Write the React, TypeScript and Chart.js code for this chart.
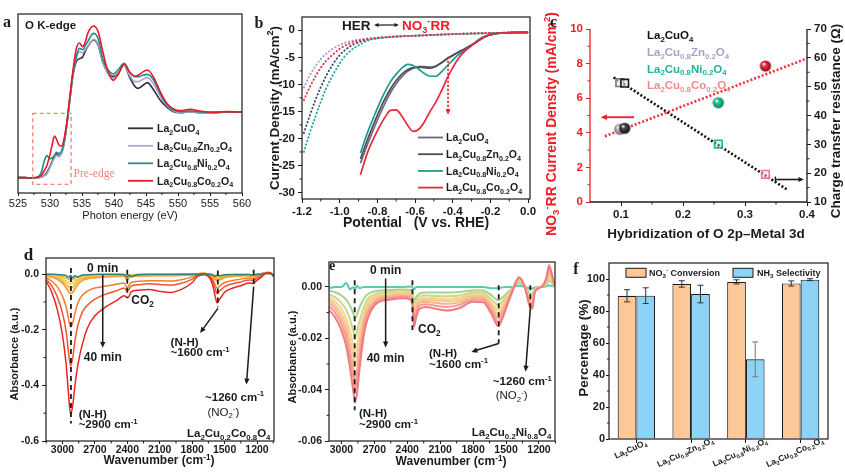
import React, { useEffect, useRef } from 'react';
import { Chart, registerables } from 'chart.js';

Chart.register(...registerables);

const W = 845;
const H = 473;
const FONT = '"Liberation Sans", Arial, Helvetica, sans-serif';
const SERIF = '"Liberation Serif", "Times New Roman", serif';
const INK = '#1b1b1b';
const RED = '#ee1c25';

const NAMES = ['La_2CuO_4', 'La_2Cu_{0.8}Zn_{0.2}O_4', 'La_2Cu_{0.8}Ni_{0.2}O_4', 'La_2Cu_{0.8}Co_{0.2}O_4'];

/* ---------------- panel a : O K-edge XAS ---------------- */
const A_ENERGY = [525, 526, 527, 528, 528.6, 529.2, 529.5, 530.0, 530.4, 530.7, 531.0, 531.4, 531.8, 532.1, 532.6, 533.1, 533.6, 534.1, 534.6, 535.1, 535.5, 535.9, 536.8, 537.5, 538.3, 539.1, 539.9, 540.6, 541.6, 542.4, 543.3, 543.8, 544.6, 545.2, 546.2, 547.2, 548.3, 549.3, 550.4, 551.9, 553.4, 555.5, 557.6, 560];
const A_CUO = [0.46, 0.46, 0.45, 0.46, 0.47, 0.54, 0.60, 0.80, 0.98, 1.09, 1.17, 1.11, 1.21, 1.39, 1.99, 2.79, 3.54, 3.94, 4.03, 4.08, 4.25, 4.39, 4.59, 4.44, 3.89, 3.59, 3.49, 3.59, 3.84, 3.49, 3.19, 3.14, 3.24, 3.31, 3.09, 2.79, 2.57, 2.44, 2.41, 2.44, 2.41, 2.41, 2.43, 2.43];
const A_ZN = [0.46, 0.46, 0.45, 0.46, 0.47, 0.52, 0.57, 0.76, 0.94, 1.04, 1.13, 1.09, 1.19, 1.37, 1.99, 2.81, 3.59, 4.04, 4.24, 4.20, 4.30, 4.41, 4.61, 4.47, 3.91, 3.57, 3.44, 3.57, 3.84, 3.54, 3.34, 3.34, 3.42, 3.46, 3.27, 2.91, 2.61, 2.46, 2.41, 2.44, 2.41, 2.41, 2.43, 2.43];
const A_NI = [0.46, 0.46, 0.45, 0.47, 0.60, 1.02, 1.12, 1.03, 1.06, 1.13, 1.22, 1.18, 1.26, 1.44, 2.04, 2.84, 3.64, 4.09, 4.34, 4.30, 4.42, 4.54, 4.79, 4.64, 3.99, 3.69, 3.57, 3.69, 3.89, 3.64, 3.49, 3.49, 3.54, 3.56, 3.39, 2.99, 2.64, 2.49, 2.44, 2.46, 2.43, 2.42, 2.43, 2.43];
const A_CO = [0.46, 0.46, 0.45, 0.47, 0.52, 0.70, 0.82, 1.15, 1.50, 1.71, 1.62, 1.44, 1.41, 1.54, 2.09, 2.89, 3.69, 4.32, 4.50, 4.39, 4.52, 4.79, 5.01, 4.85, 4.20, 3.62, 3.38, 3.54, 3.87, 3.64, 3.50, 3.54, 3.64, 3.69, 3.47, 3.05, 2.68, 2.52, 2.47, 2.51, 2.46, 2.42, 2.44, 2.43];
const A_COLORS = ['#2e2e3e', '#aba5c7', '#1f8f80', '#e8192c'];
const A_TICKS = [525, 530, 535, 540, 545, 550, 555, 560];
const A_MINOR = [527.5, 532.5, 537.5, 542.5, 547.5, 552.5, 557.5];
const A_PRE_X = [527.3, 533.3];
const A_PRE_Y = [0.26, 2.39];

/* ---------------- panel b : LSV ---------------- */
const B_V = [-0.89, -0.85, -0.82, -0.79, -0.76, -0.73, -0.70, -0.67, -0.64, -0.61, -0.58, -0.55, -0.52, -0.49, -0.46, -0.43, -0.40, -0.37, -0.34, -0.31, -0.28, -0.25, -0.22, -0.19, -0.16, -0.12, -0.08, -0.04, 0];
const B_CUO = [-24.6, -20.9, -18.3, -15.8, -13.5, -11.5, -9.9, -8.6, -7.6, -7.0, -6.7, -6.7, -6.8, -6.6, -6.0, -5.3, -4.7, -4.1, -3.6, -2.9, -2.3, -1.6, -1.05, -0.75, -0.58, -0.47, -0.41, -0.38, -0.37];
const B_ZN = [-23.8, -20.0, -17.4, -14.9, -12.7, -10.8, -9.3, -8.1, -7.3, -6.9, -6.8, -6.9, -7.0, -6.7, -6.0, -5.2, -4.6, -4.0, -3.5, -2.9, -2.3, -1.6, -1.05, -0.75, -0.58, -0.47, -0.41, -0.38, -0.37];
const B_NI = [-22.7, -18.7, -16.1, -13.6, -11.4, -9.5, -8.1, -7.0, -6.3, -6.5, -7.2, -8.0, -8.5, -8.5, -7.7, -6.6, -5.5, -4.5, -3.8, -3.1, -2.2, -1.4, -0.95, -0.7, -0.55, -0.45, -0.4, -0.38, -0.37];
const B_CO = [-26.7, -22.4, -20.0, -17.9, -16.1, -14.8, -14.7, -15.9, -17.5, -18.7, -18.3, -16.9, -15.0, -13.3, -11.2, -8.9, -6.9, -5.2, -4.0, -3.1, -2.3, -1.6, -1.0, -0.7, -0.55, -0.45, -0.4, -0.38, -0.37];
const B_V_HER = [-1.19, -1.16, -1.13, -1.10, -1.07, -1.04, -1.01, -0.98, -0.95, -0.92, -0.89, -0.85, -0.80, -0.75, -0.70, -0.60, -0.50, -0.40, -0.30, -0.20, -0.10, 0];
const B_HER_CUO = [-19.0, -15.9, -13.0, -10.5, -8.3, -6.5, -5.0, -3.9, -3.1, -2.5, -2.1, -1.75, -1.45, -1.3, -1.15, -1.0, -0.85, -0.7, -0.6, -0.5, -0.45, -0.4];
const B_HER_ZN = [-10.6, -8.4, -6.7, -5.3, -4.3, -3.5, -2.9, -2.4, -2.1, -1.85, -1.7, -1.5, -1.35, -1.25, -1.15, -1.0, -0.85, -0.7, -0.6, -0.5, -0.45, -0.4];
const B_HER_NI = [-22.5, -19.1, -16.1, -13.2, -10.6, -8.5, -6.7, -5.1, -4.0, -3.2, -2.6, -1.9, -1.5, -1.3, -1.15, -1.0, -0.85, -0.7, -0.6, -0.5, -0.45, -0.4];
const B_HER_CO = [-12.9, -10.6, -8.6, -6.9, -5.6, -4.6, -3.7, -3.0, -2.5, -2.1, -1.85, -1.6, -1.4, -1.25, -1.15, -1.0, -0.85, -0.7, -0.6, -0.5, -0.45, -0.4];
const B_SOLID_COLORS = ['#6b6b7b', '#4b4b5e', '#1f9c8a', '#e8283c'];
const B_DOT_COLORS = ['#3d4a6e', '#a89cc8', '#2aa595', '#ee3348'];
const B_XTICKS = [-1.2, -1.0, -0.8, -0.6, -0.4, -0.2, 0.0];
const B_XMINOR = [-1.1, -0.9, -0.7, -0.5, -0.3, -0.1];
const B_YTICKS = [0, -5, -10, -15, -20, -25, -30];
const B_YMINOR = [-2.5, -7.5, -12.5, -17.5, -22.5, -27.5];
const B_ARROW_V = -0.425;
const B_ARROW_J = [-4.9, -15.6];

/* ---------------- panel c : hybridization ---------------- */
const C_HYB = [0.106, 0.098, 0.257, 0.333];
const C_J = [4.26, 4.2, 5.74, 7.86];
const C_RCT = [51.2, 51.4, 30.1, 19.6];
const C_FIT_J_X = [0.074, 0.4];
const C_FIT_J_Y = [3.8, 8.3];
const C_FIT_R_X = [0.088, 0.368];
const C_FIT_R_Y = [53.2, 14.3];
const C_SPHERE = [['#4a4a4a', '#101010'], ['#b8b8c4', '#6e6e7c'], ['#2ccaa2', '#0b7a5e'], ['#f03046', '#8a0d1a']];
const C_SQUARE = ['#1e1e1e', '#7a7a7a', '#1fb3a0', '#f07a8a'];
const C_SQUARE_FILL = ['rgba(230,230,235,0.55)', 'rgba(230,230,235,0.55)', 'rgba(160,230,220,0.35)', 'rgba(250,210,215,0.45)'];
const C_TEXT = ['#111111', '#a7a3c9', '#21b39b', '#f28a8a'];
const C_XTICKS = [0.1, 0.2, 0.3, 0.4];
const C_YTICKS = [0, 2, 4, 6, 8, 10];
const C_Y1TICKS = [10, 20, 30, 40, 50, 60, 70];

/* ---------------- panel d : IR La2Cu0.2Co0.8O4 ---------------- */
const D_WN = [3150, 3100, 3050, 3000, 2965, 2945, 2925, 2905, 2885, 2855, 2815, 2765, 2700, 2600, 2500, 2430, 2400, 2385, 2365, 2300, 2200, 2100, 2000, 1900, 1800, 1750, 1700, 1650, 1610, 1590, 1570, 1545, 1500, 1450, 1400, 1350, 1300, 1260, 1235, 1210, 1170, 1140, 1110, 1080, 1060, 1045];
const D_0 = [0.0, 0.0, -0.001, -0.003, -0.006, -0.012, -0.005, -0.013, -0.006, -0.01, -0.003, -0.002, -0.001, 0.0, 0.0, -0.001, -0.01, -0.003, -0.009, -0.001, 0.0, 0.0, 0.0, 0.0, 0.0, 0.0, 0.001, 0.0, -0.003, -0.008, -0.004, -0.006, -0.002, -0.001, -0.001, -0.001, -0.001, -0.002, -0.003, -0.001, 0.0, 0.002, 0.002, 0.001, 0.0, -0.002];
const D_1 = [-0.002, -0.003, -0.005, -0.009, -0.014, -0.018, -0.02, -0.019, -0.015, -0.01, -0.006, -0.004, -0.003, -0.003, -0.002, -0.002, -0.01, -0.005, -0.003, -0.002, -0.002, -0.002, -0.002, -0.001, 0.0, 0.001, 0.002, 0.0, -0.003, -0.005, -0.007, -0.006, -0.004, -0.003, -0.002, -0.002, -0.002, -0.003, -0.004, -0.002, 0.0, 0.002, 0.003, 0.002, 0.0, -0.003];
const D_2 = [-0.003, -0.005, -0.009, -0.016, -0.025, -0.031, -0.035, -0.032, -0.025, -0.016, -0.01, -0.008, -0.006, -0.005, -0.004, -0.004, -0.012, -0.007, -0.004, -0.003, -0.003, -0.003, -0.003, -0.002, 0.0, 0.001, 0.002, 0.0, -0.004, -0.008, -0.012, -0.01, -0.006, -0.004, -0.003, -0.003, -0.003, -0.004, -0.005, -0.002, 0.0, 0.003, 0.004, 0.003, 0.0, -0.004];
const D_3 = [-0.004, -0.008, -0.013, -0.024, -0.037, -0.045, -0.05, -0.047, -0.037, -0.024, -0.015, -0.011, -0.009, -0.007, -0.006, -0.005, -0.016, -0.009, -0.006, -0.005, -0.004, -0.004, -0.004, -0.003, -0.001, 0.001, 0.002, 0.0, -0.006, -0.012, -0.017, -0.014, -0.008, -0.006, -0.005, -0.004, -0.004, -0.005, -0.006, -0.003, 0.0, 0.003, 0.005, 0.004, 0.0, -0.005];
const D_4 = [-0.005, -0.01, -0.018, -0.032, -0.05, -0.062, -0.07, -0.066, -0.052, -0.035, -0.022, -0.016, -0.013, -0.01, -0.008, -0.007, -0.022, -0.012, -0.008, -0.006, -0.006, -0.005, -0.005, -0.004, -0.002, 0.0, 0.002, 0.0, -0.008, -0.017, -0.025, -0.02, -0.012, -0.009, -0.007, -0.006, -0.005, -0.006, -0.008, -0.004, -0.001, 0.003, 0.006, 0.005, 0.0, -0.006];
const D_5 = [-0.012, -0.025, -0.045, -0.08, -0.12, -0.16, -0.19, -0.175, -0.14, -0.10, -0.075, -0.06, -0.05, -0.043, -0.036, -0.032, -0.05, -0.04, -0.03, -0.026, -0.024, -0.024, -0.025, -0.02, -0.01, -0.002, 0.001, -0.003, -0.018, -0.035, -0.05, -0.042, -0.03, -0.025, -0.021, -0.018, -0.014, -0.014, -0.017, -0.011, -0.005, 0.0, 0.005, 0.005, 0.0, -0.007];
const D_6 = [-0.018, -0.042, -0.08, -0.14, -0.21, -0.28, -0.33, -0.30, -0.24, -0.18, -0.135, -0.11, -0.09, -0.072, -0.06, -0.05, -0.06, -0.055, -0.043, -0.038, -0.035, -0.037, -0.04, -0.033, -0.018, -0.004, 0.0, -0.005, -0.025, -0.05, -0.07, -0.06, -0.045, -0.037, -0.032, -0.028, -0.022, -0.021, -0.024, -0.017, -0.009, -0.002, 0.005, 0.005, 0.0, -0.008];
const D_7 = [-0.026, -0.065, -0.125, -0.22, -0.33, -0.43, -0.505, -0.47, -0.40, -0.32, -0.25, -0.19, -0.15, -0.118, -0.095, -0.078, -0.085, -0.08, -0.064, -0.058, -0.055, -0.062, -0.066, -0.055, -0.03, -0.008, -0.002, -0.008, -0.04, -0.075, -0.103, -0.09, -0.065, -0.054, -0.047, -0.042, -0.034, -0.032, -0.034, -0.025, -0.014, -0.004, 0.004, 0.004, -0.002, -0.01];
const D_COLORS = ['#2f7f7c', '#c6c25c', '#f3d24e', '#f7bb45', '#f6a032', '#f47c2e', '#f0552e', '#ee2424'];
const D_XTICKS = [3000, 2700, 2400, 2100, 1800, 1500, 1200];
const D_XMINOR = [3150, 2850, 2550, 2250, 1950, 1650, 1350, 1050];
const D_YTICKS = [0, -0.2, -0.4, -0.6];
const D_YMINOR = [-0.1, -0.3, -0.5];

/* ---------------- panel e : IR La2Cu0.2Ni0.8O4 ---------------- */
const E_WN = [3110, 3060, 3000, 2955, 2920, 2890, 2876, 2860, 2835, 2800, 2765, 2680, 2560, 2440, 2370, 2350, 2338, 2320, 2287, 2225, 2140, 2045, 1925, 1800, 1710, 1635, 1600, 1574, 1545, 1505, 1440, 1382, 1330, 1285, 1262, 1240, 1200, 1164, 1130, 1109, 1080, 1056];
const E_0 = [-0.0005, 0.0, 0.0, 0.0015, -0.001, 0.0, -0.001, 0.0005, -0.0005, 0.0, 0.0, 0.0, 0.0, 0.0, 0.0002, -0.0002, -0.001, 0.0, 0.0, 0.0, 0.0, 0.0, 0.0, 0.0, 0.0, -0.0005, -0.0005, -0.0005, -0.0003, 0.0, 0.0, 0.0005, 0.0, -0.0005, -0.0006, -0.0003, 0.0, 0.0, 0.0003, 0.0006, 0.0003, 0.0];
const E_1 = [-0.0015, -0.002, -0.0033, -0.005, -0.0075, -0.0105, -0.012, -0.011, -0.008, -0.005, -0.003, -0.0016, -0.0012, -0.001, -0.0012, -0.0025, -0.0055, -0.004, -0.0025, -0.0022, -0.0022, -0.0022, -0.002, -0.0014, -0.0014, -0.0032, -0.0045, -0.0052, -0.0045, -0.003, -0.0004, 0.0015, 0.0002, -0.0025, -0.003, -0.0008, -0.0001, 0.0002, 0.001, 0.0025, 0.0014, 0.0002];
const E_2 = [-0.003, -0.004, -0.0062, -0.009, -0.013, -0.0175, -0.02, -0.018, -0.0135, -0.0085, -0.005, -0.0027, -0.002, -0.0017, -0.002, -0.0035, -0.007, -0.0052, -0.0035, -0.0033, -0.0035, -0.0036, -0.0033, -0.0023, -0.0023, -0.0048, -0.0062, -0.0072, -0.0062, -0.004, -0.0005, 0.0022, 0.0003, -0.0036, -0.0042, -0.0012, -0.0002, 0.0003, 0.0015, 0.0035, 0.002, 0.0003];
const E_3 = [-0.004, -0.0055, -0.0085, -0.0125, -0.0175, -0.023, -0.026, -0.0235, -0.0175, -0.011, -0.0065, -0.0035, -0.0025, -0.0022, -0.0025, -0.0042, -0.0085, -0.0065, -0.0045, -0.0042, -0.0044, -0.0046, -0.0042, -0.003, -0.003, -0.006, -0.0078, -0.009, -0.0078, -0.005, -0.0006, 0.0027, 0.0003, -0.0045, -0.0052, -0.0015, -0.0002, 0.0004, 0.002, 0.0045, 0.0025, 0.0004];
const E_4 = [-0.005, -0.0068, -0.0105, -0.015, -0.021, -0.0275, -0.031, -0.028, -0.021, -0.013, -0.008, -0.0042, -0.0031, -0.0027, -0.003, -0.005, -0.01, -0.0078, -0.0053, -0.005, -0.0052, -0.0055, -0.005, -0.0035, -0.0035, -0.007, -0.009, -0.0105, -0.009, -0.006, -0.0008, 0.003, 0.0003, -0.0052, -0.006, -0.0018, -0.0003, 0.0004, 0.0025, 0.0055, 0.003, 0.0004];
const E_5 = [-0.0062, -0.0082, -0.0125, -0.0175, -0.025, -0.032, -0.036, -0.033, -0.025, -0.015, -0.0095, -0.005, -0.0037, -0.0032, -0.0036, -0.006, -0.0115, -0.009, -0.0062, -0.0058, -0.0062, -0.0066, -0.006, -0.0042, -0.0042, -0.008, -0.0105, -0.0122, -0.0105, -0.007, -0.001, 0.0034, 0.0003, -0.006, -0.0068, -0.002, -0.0003, 0.0005, 0.003, 0.0065, 0.0035, 0.0005];
const E_6 = [-0.0075, -0.0098, -0.0145, -0.02, -0.028, -0.036, -0.04, -0.037, -0.028, -0.017, -0.011, -0.0057, -0.0043, -0.0038, -0.0043, -0.007, -0.013, -0.0105, -0.0073, -0.0068, -0.0073, -0.0078, -0.007, -0.005, -0.005, -0.0092, -0.012, -0.0138, -0.012, -0.008, -0.0012, 0.0036, 0.0002, -0.0068, -0.0078, -0.0022, -0.0004, 0.0005, 0.0035, 0.0075, 0.004, 0.0005];
const E_7 = [-0.0091, -0.0117, -0.0168, -0.0233, -0.032, -0.041, -0.045, -0.042, -0.032, -0.02, -0.013, -0.0065, -0.005, -0.0044, -0.005, -0.008, -0.0155, -0.012, -0.0085, -0.0078, -0.0085, -0.0092, -0.0082, -0.0058, -0.006, -0.0104, -0.0135, -0.0153, -0.0135, -0.009, -0.0015, 0.0038, 0.0, -0.0075, -0.0085, -0.0025, -0.0005, 0.0005, 0.004, 0.0085, 0.0045, 0.0005];
const E_COLORS = ['#62c6b2', '#a9d28c', '#cdd68a', '#f2d88c', '#f6c78a', '#f6b28c', '#f49a8e', '#f27a80'];
const E_XTICKS = [3000, 2700, 2400, 2100, 1800, 1500, 1200];
const E_XMINOR = [2850, 2550, 2250, 1950, 1650, 1350, 1050];
const E_YTICKS = [0, -0.02, -0.04, -0.06];
const E_YMINOR = [-0.01, -0.03, -0.05];

/* ---------------- panel f : conversion / selectivity ---------------- */
const F_CONV = [89.5, 96.9, 98.2, 97.2];
const F_CONV_ERR = [3.8, 2.0, 1.3, 1.6];
const F_SEL = [89.6, 90.6, 49.8, 99.6];
const F_SEL_ERR = [4.9, 5.5, 10.9, 0.6];
const F_YTICKS = [0, 20, 40, 60, 80, 100];
const F_YMINOR = [10, 30, 50, 70, 90];
const F_ORANGE = '#fcc897';
const F_BLUE = '#8dd3f5';

/* ---------------- helpers ---------------- */
function parseRich(s: string) {
  const out: { t: string; m: number }[] = [];
  let buf = '';
  for (let i = 0; i < s.length; i++) {
    const c = s[i];
    if ((c === '_' || c === '^') && i + 1 < s.length) {
      if (buf) { out.push({ t: buf, m: 0 }); buf = ''; }
      let t = '';
      if (s[i + 1] === '{') { const j = s.indexOf('}', i + 2); t = s.slice(i + 2, j); i = j; }
      else { t = s[i + 1]; i++; }
      out.push({ t, m: c === '_' ? 1 : 2 });
    } else buf += c;
  }
  if (buf) out.push({ t: buf, m: 0 });
  return out;
}

function drawRich(ctx: any, s: string, x: number, y: number, o: any = {}) {
  const size = o.size ?? 11;
  const weight = o.weight ?? 'bold';
  const fam = o.family ?? FONT;
  const segs = parseRich(s);
  const fnt = (m: number) => `${weight} ${m ? size * 0.68 : size}px ${fam}`;
  const widths = segs.map((sg) => { ctx.font = fnt(sg.m); return ctx.measureText(sg.t).width; });
  const total = widths.reduce((a: number, b: number) => a + b, 0);
  ctx.save();
  ctx.translate(x, y);
  if (o.rot) ctx.rotate(o.rot);
  ctx.fillStyle = o.color ?? INK;
  ctx.textAlign = 'left';
  ctx.textBaseline = 'alphabetic';
  let cx = o.align === 'center' ? -total / 2 : o.align === 'right' ? -total : 0;
  const base = size * 0.36;
  segs.forEach((sg, i) => {
    ctx.font = fnt(sg.m);
    const dy = sg.m === 1 ? size * 0.24 : sg.m === 2 ? -size * 0.4 : 0;
    ctx.fillText(sg.t, cx, base + dy);
    cx += widths[i];
  });
  ctx.restore();
}

function seg(ctx: any, x1: number, y1: number, x2: number, y2: number, color: string, lw = 1.2, dash: number[] = []) {
  ctx.save();
  ctx.strokeStyle = color;
  ctx.lineWidth = lw;
  ctx.setLineDash(dash);
  ctx.beginPath();
  ctx.moveTo(x1, y1);
  ctx.lineTo(x2, y2);
  ctx.stroke();
  ctx.restore();
}

function head(ctx: any, x1: number, y1: number, x2: number, y2: number, color: string, size: number) {
  const a = Math.atan2(y2 - y1, x2 - x1);
  ctx.save();
  ctx.fillStyle = color;
  ctx.beginPath();
  ctx.moveTo(x2, y2);
  ctx.lineTo(x2 - Math.cos(a - 0.42) * size, y2 - Math.sin(a - 0.42) * size);
  ctx.lineTo(x2 - Math.cos(a + 0.42) * size, y2 - Math.sin(a + 0.42) * size);
  ctx.closePath();
  ctx.fill();
  ctx.restore();
}

function arrow(ctx: any, x1: number, y1: number, x2: number, y2: number, color: string, lw = 1.5, hs = 6, dash: number[] = []) {
  const a = Math.atan2(y2 - y1, x2 - x1);
  seg(ctx, x1, y1, x2 - Math.cos(a) * hs * 0.7, y2 - Math.sin(a) * hs * 0.7, color, lw, dash);
  head(ctx, x1, y1, x2, y2, color, hs);
}

function minor(ctx: any, sc: any, vals: number[], side: string, len = 2.5, color = INK) {
  ctx.save();
  ctx.strokeStyle = color;
  ctx.lineWidth = 1;
  ctx.beginPath();
  vals.forEach((v) => {
    const p = sc.getPixelForValue(v);
    if (side === 'bottom') { ctx.moveTo(p, sc.top); ctx.lineTo(p, sc.top + len); }
    else if (side === 'left') { ctx.moveTo(sc.right - len, p); ctx.lineTo(sc.right, p); }
    else { ctx.moveTo(sc.left, p); ctx.lineTo(sc.left + len, p); }
  });
  ctx.stroke();
  ctx.restore();
}

function frame(ctx: any, ca: any, color = INK, lw = 1.2) {
  ctx.save();
  ctx.strokeStyle = color;
  ctx.lineWidth = lw;
  ctx.strokeRect(ca.left, ca.top, ca.right - ca.left, ca.bottom - ca.top);
  ctx.restore();
}

function pts(xs: number[], ys: number[]) {
  return xs.map((x, i) => ({ x, y: ys[i] }));
}

function lineDS(xs: number[], ys: number[], color: string, width: number, dash: number[] = []) {
  return {
    data: pts(xs, ys),
    borderColor: color,
    backgroundColor: color,
    borderWidth: width,
    borderDash: dash,
    borderCapStyle: dash.length ? 'round' : 'butt',
    pointRadius: 0,
    fill: false,
    cubicInterpolationMode: 'monotone',
  };
}

function lin(o: any) {
  return {
    type: 'linear',
    position: o.position,
    min: o.min,
    max: o.max,
    reverse: !!o.reverse,
    afterBuildTicks: (s: any) => { s.ticks = o.ticks.map((v: number) => ({ value: v })); },
    afterFit: (s: any) => { if (s.isHorizontal()) s.height = o.fit; else s.width = o.fit; },
    ticks: {
      display: o.show !== false,
      autoSkip: false,
      maxRotation: 0,
      minRotation: 0,
      padding: o.pad ?? 3,
      color: o.color ?? INK,
      font: { family: FONT, size: o.size ?? 11, weight: o.weight ?? 'bold' },
      callback: (v: any) => (o.fmt ? o.fmt(Number(v)) : String(v)),
    },
    grid: { display: true, drawOnChartArea: false, drawTicks: o.tickLen !== 0, tickLength: o.tickLen ?? 4, color: o.gridColor ?? INK, lineWidth: 1 },
    border: { display: false },
    title: { display: false },
  };
}

function pad(l: number, t: number, r: number, b: number, yw: number, xh: number, rw = 0) {
  return { left: l - yw, top: t, right: W - r - rw, bottom: H - b - xh };
}

function opts(padding: any, scales: any) {
  return {
    responsive: false,
    animation: false,
    events: [],
    layout: { padding },
    plugins: { legend: { display: false }, tooltip: { enabled: false } },
    scales,
  };
}

function overlay(id: string, draw: (ctx: any, ch: any) => void) {
  return { id, afterDraw(ch: any) { const ctx = ch.ctx; ctx.save(); draw(ctx, ch); ctx.restore(); } };
}

function sphereImg(light: string, dark: string, r: number) {
  const c = document.createElement('canvas');
  const s = Math.ceil(r * 2 + 2);
  c.width = s;
  c.height = s;
  const g = c.getContext('2d')!;
  const cx = s / 2;
  const grad = g.createRadialGradient(cx - r * 0.35, cx - r * 0.4, r * 0.08, cx, cx, r);
  grad.addColorStop(0, '#ffffff');
  grad.addColorStop(0.3, light);
  grad.addColorStop(1, dark);
  g.fillStyle = grad;
  g.beginPath();
  g.arc(cx, cx, r, 0, Math.PI * 2);
  g.fill();
  return c;
}

/* ---------------- builders ---------------- */
function buildA(cv: HTMLCanvasElement) {
  const series = [A_CUO, A_ZN, A_NI, A_CO];
  const datasets = series.map((ys, i) => lineDS(A_ENERGY, ys, A_COLORS[i], 1.6)).reverse();
  const ov = overlay('ovA', (ctx, ch) => {
    const ca = ch.chartArea, x = ch.scales.x, y = ch.scales.y;
    frame(ctx, ca);
    minor(ctx, x, A_MINOR, 'bottom', 2);
    drawRich(ctx, 'O K-edge', ca.left + 7, ca.top + 11, { size: 11.5 });
    NAMES.forEach((n, i) => {
      const yy = 128.3 + i * 17.5;
      seg(ctx, 128, yy, 153, yy, A_COLORS[i], 1.8);
      drawRich(ctx, n, 157, yy, { size: 10.5 });
    });
    const x1 = x.getPixelForValue(A_PRE_X[0]), x2 = x.getPixelForValue(A_PRE_X[1]);
    const y1 = y.getPixelForValue(A_PRE_Y[1]), y2 = y.getPixelForValue(A_PRE_Y[0]);
    ctx.save();
    ctx.setLineDash([4, 3]);
    ctx.strokeStyle = '#f4847c';
    ctx.lineWidth = 1.3;
    ctx.strokeRect(x1, y1, x2 - x1, y2 - y1);
    ctx.restore();
    drawRich(ctx, 'Pre-edge', x2 + 2.5, y.getPixelForValue(0.6), { family: SERIF, size: 11.5, weight: 'normal', color: '#f4847c' });
    drawRich(ctx, 'Photon energy (eV)', (ca.left + ca.right) / 2, 215, { size: 11, weight: 'normal', align: 'center' });
    drawRich(ctx, 'a', 7, 21, { family: SERIF, size: 16, align: 'center' });
  });
  return new Chart(cv, {
    type: 'line',
    data: { datasets } as any,
    options: opts(pad(18, 14, 242, 193, 6, 20), {
      x: lin({ min: 525, max: 560, ticks: A_TICKS, fit: 20, size: 11, weight: 'normal', tickLen: 3, pad: 1 }),
      y: lin({ min: 0, max: 5.37, ticks: [0], fit: 6, show: false, tickLen: 0 }),
    }) as any,
    plugins: [ov],
  });
}

function buildB(cv: HTMLCanvasElement) {
  const solid = [B_CUO, B_ZN, B_NI, B_CO].map((ys, i) => lineDS(B_V, ys, B_SOLID_COLORS[i], 1.7)).reverse();
  const dotted = [B_HER_CUO, B_HER_ZN, B_HER_NI, B_HER_CO].map((ys, i) => lineDS(B_V_HER, ys, B_DOT_COLORS[i], 1.9, [0.5, 3.2])).reverse();
  const ov = overlay('ovB', (ctx, ch) => {
    const ca = ch.chartArea, x = ch.scales.x, y = ch.scales.y;
    frame(ctx, ca);
    minor(ctx, x, B_XMINOR, 'bottom');
    minor(ctx, y, B_YMINOR, 'left');
    NAMES.forEach((n, i) => {
      const yy = 137.5 + i * 16.7;
      seg(ctx, 418, yy, 443, yy, B_SOLID_COLORS[i], 1.8);
      drawRich(ctx, n, 446, yy, { size: 10.5 });
    });
    drawRich(ctx, 'HER', 342, 25, { size: 13.5 });
    seg(ctx, 377, 25, 396, 25, INK, 1.2);
    head(ctx, 380, 25, 374, 25, INK, 5);
    head(ctx, 393, 25, 399, 25, INK, 5);
    drawRich(ctx, 'NO_3^-RR', 402, 25, { size: 13.5, color: RED });
    const ax = x.getPixelForValue(B_ARROW_V);
    arrow(ctx, ax, y.getPixelForValue(B_ARROW_J[0]), ax, y.getPixelForValue(B_ARROW_J[1]), RED, 1.8, 6, [2, 2]);
    drawRich(ctx, 'Current Density (mA/cm^2)', 274, 108, { size: 13.5, align: 'center', rot: -Math.PI / 2 });
    drawRich(ctx, 'Potential   (V vs. RHE)', 416, 222, { size: 14, align: 'center' });
    drawRich(ctx, 'b', 259, 22, { family: SERIF, size: 16, align: 'center' });
  });
  return new Chart(cv, {
    type: 'line',
    data: { datasets: [...solid, ...dotted] } as any,
    options: opts(pad(302, 17, 530, 199, 32, 20), {
      x: lin({ min: -1.2, max: 0.01, ticks: B_XTICKS, fit: 20, size: 11.5, fmt: (v: number) => v.toFixed(1), pad: 2 }),
      y: lin({ min: -31.2, max: 2.46, ticks: B_YTICKS, fit: 32, size: 11.5 }),
    }) as any,
    plugins: [ov],
  });
}

function buildC(cv: HTMLCanvasElement) {
  const spheres = C_SPHERE.map(([l, d]) => sphereImg(l, d, 5.6));
  const datasets: any[] = [
    ...C_HYB.map((xv, i) => ({ data: [{ x: xv, y: C_J[i] }], yAxisID: 'y', pointStyle: spheres[i], pointRadius: 6, showLine: false })),
    ...C_HYB.map((xv, i) => ({ data: [{ x: xv, y: C_RCT[i] }], yAxisID: 'y1', pointStyle: 'rect', pointRadius: 5.4, borderColor: C_SQUARE[i], backgroundColor: C_SQUARE_FILL[i], borderWidth: 1.6, showLine: false })),
    { data: pts(C_FIT_J_X, C_FIT_J_Y), yAxisID: 'y', showLine: true, borderColor: '#f0303a', borderWidth: 2.6, borderDash: [2, 2], pointRadius: 0 },
    { data: pts(C_FIT_R_X, C_FIT_R_Y), yAxisID: 'y1', showLine: true, borderColor: '#111111', borderWidth: 2.6, borderDash: [2, 2], pointRadius: 0 },
  ];
  const ov = overlay('ovC', (ctx, ch) => {
    const ca = ch.chartArea, x = ch.scales.x, yl = ch.scales.y, yr = ch.scales.y1;
    seg(ctx, ca.left, ca.top, ca.left, ca.bottom, RED, 1.3);
    seg(ctx, ca.left, ca.bottom, ca.right, ca.bottom, INK, 1.3);
    seg(ctx, ca.right, ca.top, ca.right, ca.bottom, INK, 1.3);
    minor(ctx, x, [0.15, 0.25, 0.35], 'bottom');
    minor(ctx, yl, [1, 3, 5, 7, 9], 'left', 2.5, RED);
    minor(ctx, yr, [15, 25, 35, 45, 55, 65], 'right');
    NAMES.forEach((n, i) => drawRich(ctx, n, 647, 35 + i * 16.7, { size: 11.5, color: C_TEXT[i] }));
    const ry = yl.getPixelForValue(4.9);
    arrow(ctx, x.getPixelForValue(0.121), ry, x.getPixelForValue(0.067), ry, RED, 1.8, 7);
    const by = yr.getPixelForValue(17.8);
    const bx = x.getPixelForValue(0.349);
    arrow(ctx, bx, by, x.getPixelForValue(0.395), by, INK, 1.6, 6);
    seg(ctx, bx, by - 3, bx, by + 3, INK, 1.4);
    drawRich(ctx, 'NO_3^-RR Current Density (mA/cm^2)', 551, 124, { size: 14, align: 'center', rot: -Math.PI / 2, color: RED });
    drawRich(ctx, 'Charge transfer resistance (Ω)', 835, 121, { size: 13.5, align: 'center', rot: -Math.PI / 2 });
    drawRich(ctx, 'Hybridization of O 2p–Metal 3d', 706, 233, { size: 13.5, align: 'center' });
    drawRich(ctx, 'c', 553.5, 21.5, { family: SERIF, size: 16, align: 'center' });
  });
  return new Chart(cv, {
    type: 'scatter',
    data: { datasets },
    options: opts(pad(590, 29, 807, 202, 32, 20, 32), {
      x: lin({ min: 0.05, max: 0.4, ticks: C_XTICKS, fit: 20, size: 11.5, fmt: (v: number) => v.toFixed(1), pad: 2 }),
      y: lin({ min: 0, max: 10, ticks: C_YTICKS, fit: 32, size: 11.5, color: RED, gridColor: RED }),
      y1: lin({ min: 10, max: 70, ticks: C_Y1TICKS, fit: 32, size: 11.5, position: 'right' }),
    }) as any,
    plugins: [ov],
  });
}

function irAnnot(ctx: any, x: any, y: any, a: any) {
  a.dash.forEach((d: number[]) => {
    const px = x.getPixelForValue(d[0]);
    seg(ctx, px, y.getPixelForValue(d[1]), px, y.getPixelForValue(d[2]), INK, 1.8, [5, 4]);
  });
  const P = (p: number[]) => [x.getPixelForValue(p[0]), y.getPixelForValue(p[1])];
  a.arrows.forEach((r: number[][]) => {
    const [x1, y1] = P(r[0]);
    const [x2, y2] = P(r[1]);
    arrow(ctx, x1, y1, x2, y2, INK, 1.5, 6.5);
  });
  a.texts.forEach((t: any) => {
    const [tx, ty] = P(t.at);
    drawRich(ctx, t.s, tx, ty, { size: t.size ?? 11.5, align: t.align ?? 'left', weight: t.weight ?? 'bold' });
  });
}

function buildD(cv: HTMLCanvasElement) {
  const series = [D_0, D_7, D_6, D_5, D_4, D_3, D_2, D_1];
  const cols = [D_COLORS[0], D_COLORS[7], D_COLORS[6], D_COLORS[5], D_COLORS[4], D_COLORS[3], D_COLORS[2], D_COLORS[1]];
  const datasets = series.map((ys, i) => lineDS(D_WN, ys, cols[i], i >= 4 ? 1.9 : 1.5));
  const ov = overlay('ovD', (ctx, ch) => {
    const ca = ch.chartArea, x = ch.scales.x, y = ch.scales.y;
    frame(ctx, ca);
    minor(ctx, x, D_XMINOR, 'bottom');
    minor(ctx, y, D_YMINOR, 'left');
    irAnnot(ctx, x, y, {
      dash: [[2922, 0.022, -0.537], [2401, 0.016, -0.086], [1563, 0.013, -0.119], [1231, 0.016, -0.042]],
      arrows: [[[2628, -0.003], [2628, -0.265]], [[1562, -0.123], [1727, -0.212]], [[1231, -0.045], [1298, -0.397]]],
      texts: [
        { s: '0 min', at: [2628, 0.024], size: 12, align: 'center' },
        { s: '40 min', at: [2628, -0.296], size: 12, align: 'center' },
        { s: 'CO_2', at: [2363, -0.093], size: 12 },
        { s: '(N-H)', at: [2000, -0.242] },
        { s: '~1600 cm^{-1}', at: [2000, -0.28] },
        { s: '~1260 cm^{-1}', at: [1681, -0.441] },
        { s: '(NO_2^-)', at: [1659, -0.494], weight: 'normal' },
        { s: '(N-H)', at: [2851, -0.501] },
        { s: '~2900 cm^{-1}', at: [2851, -0.54] },
        { s: 'La_2Cu_{0.2}Co_{0.8}O_4', at: [1076, -0.57], align: 'right' },
      ],
    });
    drawRich(ctx, 'Absorbance (a.u.)', 14, 354, { size: 11, align: 'center', rot: -Math.PI / 2 });
    drawRich(ctx, 'Wavenumber (cm^{-1})', 159, 460, { size: 12, align: 'center' });
    drawRich(ctx, 'd', 28.5, 254, { family: SERIF, size: 17, align: 'center' });
  });
  return new Chart(cv, {
    type: 'line',
    data: { datasets } as any,
    options: opts(pad(46, 258, 274, 441, 30, 18), {
      x: lin({ min: 1043, max: 3153, reverse: true, ticks: D_XTICKS, fit: 18, size: 10.5, pad: 0, tickLen: 3 }),
      y: lin({ min: -0.6, max: 0.058, ticks: D_YTICKS, fit: 30, size: 10.5, fmt: (v: number) => (v === 0 ? '0.0' : v.toFixed(1)) }),
    }) as any,
    plugins: [ov],
  });
}

function buildE(cv: HTMLCanvasElement) {
  const series = [E_7, E_6, E_5, E_4, E_3, E_2, E_1, E_0];
  const cols = [E_COLORS[7], E_COLORS[6], E_COLORS[5], E_COLORS[4], E_COLORS[3], E_COLORS[2], E_COLORS[1], E_COLORS[0]];
  const datasets = series.map((ys, i) => lineDS(E_WN, ys, cols[i], 2));
  const ov = overlay('ovE', (ctx, ch) => {
    const ca = ch.chartArea, x = ch.scales.x, y = ch.scales.y;
    frame(ctx, ca);
    minor(ctx, x, E_XMINOR, 'bottom');
    minor(ctx, y, E_YMINOR, 'left');
    irAnnot(ctx, x, y, {
      dash: [[2879, 0.0026, -0.048], [2353, 0.0026, -0.0168], [1567, 0.0006, -0.022], [1279, 0.0006, -0.0084]],
      arrows: [[[2597, 0.0033], [2597, -0.0236]], [[1567, -0.022], [1816, -0.0253]], [[1279, -0.0084], [1322, -0.033]]],
      texts: [
        { s: '0 min', at: [2597, 0.0068], size: 12, align: 'center' },
        { s: '40 min', at: [2597, -0.0275], size: 12, align: 'center' },
        { s: 'CO_2', at: [2302, -0.0162], size: 12 },
        { s: '(N-H)', at: [2202, -0.0257] },
        { s: '~1600 cm^{-1}', at: [2202, -0.030] },
        { s: '~1260 cm^{-1}', at: [1620, -0.0367] },
        { s: '(NO_2^-)', at: [1594, -0.0421], weight: 'normal' },
        { s: '(N-H)', at: [2840, -0.049] },
        { s: '~2900 cm^{-1}', at: [2840, -0.0534] },
        { s: 'La_2Cu_{0.2}Ni_{0.8}O_4', at: [1087, -0.0564], align: 'right' },
      ],
    });
    drawRich(ctx, 'Absorbance (a.u.)', 292, 357, { size: 11, align: 'center', rot: -Math.PI / 2 });
    drawRich(ctx, 'Wavenumber (cm^{-1})', 451, 461, { size: 12, align: 'center' });
    drawRich(ctx, 'e', 332, 265, { family: SERIF, size: 14, align: 'center' });
  });
  return new Chart(cv, {
    type: 'line',
    data: { datasets } as any,
    options: opts(pad(329, 262, 555, 441, 36, 18), {
      x: lin({ min: 1054, max: 3113, reverse: true, ticks: E_XTICKS, fit: 18, size: 10.5, pad: 0, tickLen: 3 }),
      y: lin({ min: -0.06, max: 0.0097, ticks: E_YTICKS, fit: 36, size: 10.5, fmt: (v: number) => v.toFixed(2) }),
    }) as any,
    plugins: [ov],
  });
}

function buildF(cv: HTMLCanvasElement) {
  const ov = overlay('ovF', (ctx, ch) => {
    const ca = ch.chartArea, x = ch.scales.x, y = ch.scales.y;
    frame(ctx, ca);
    minor(ctx, y, F_YMINOR, 'left', 2);
    const errs = [F_CONV_ERR, F_SEL_ERR];
    const vals = [F_CONV, F_SEL];
    [0, 1].forEach((di) => {
      const meta = ch.getDatasetMeta(di);
      meta.data.forEach((el: any, j: number) => {
        const v = vals[di][j], e = errs[di][j];
        const yt = y.getPixelForValue(v + e), yb = y.getPixelForValue(v - e);
        const col = di === 1 && j === 2 ? '#777' : '#333';
        seg(ctx, el.x, yt, el.x, yb, col, 1);
        seg(ctx, el.x - 3, yt, el.x + 3, yt, col, 1);
        seg(ctx, el.x - 3, yb, el.x + 3, yb, col, 1);
      });
    });
    ctx.save();
    ctx.lineWidth = 1;
    ctx.strokeStyle = INK;
    ctx.fillStyle = F_ORANGE;
    ctx.fillRect(626, 268.3, 20, 9);
    ctx.strokeRect(626, 268.3, 20, 9);
    ctx.fillStyle = F_BLUE;
    ctx.fillRect(733, 268.3, 20, 9);
    ctx.strokeRect(733, 268.3, 20, 9);
    ctx.restore();
    drawRich(ctx, 'NO_3^- Conversion', 649, 272.8, { size: 9 });
    drawRich(ctx, 'NH_3 Selectivity', 757, 272.8, { size: 9 });
    NAMES.forEach((n, i) => {
      const cx = x.getPixelForValue(i);
      drawRich(ctx, n, cx - 6, i === 0 ? 449 : 452, { size: 8.5, align: 'center', rot: -0.42 });
    });
    drawRich(ctx, 'Percentage (%)', 583, 348, { size: 13.5, align: 'center', rot: -Math.PI / 2 });
    drawRich(ctx, 'f', 576, 268, { family: SERIF, size: 16, align: 'center' });
  });
  return new Chart(cv, {
    type: 'bar',
    data: {
      labels: NAMES,
      datasets: [
        { data: F_CONV, backgroundColor: F_ORANGE, borderColor: INK, borderWidth: 1.1, categoryPercentage: 0.683, barPercentage: 1.0 },
        { data: F_SEL, backgroundColor: F_BLUE, borderColor: INK, borderWidth: 1.1, categoryPercentage: 0.683, barPercentage: 1.0 },
      ],
    },
    options: opts(pad(609, 263, 828, 439, 30, 6), {
      x: {
        type: 'category',
        offset: true,
        afterFit: (s: any) => { s.height = 6; },
        grid: { display: true, offset: false, drawOnChartArea: false, drawTicks: true, tickLength: 4, color: INK },
        ticks: { display: false },
        border: { display: false },
      },
      y: lin({ min: 0, max: 110, ticks: F_YTICKS, fit: 30, size: 11, tickLen: 3, pad: 1 }),
    }) as any,
    plugins: [ov],
  });
}

export default function App() {
  const r0 = useRef<HTMLCanvasElement>(null);
  const r1 = useRef<HTMLCanvasElement>(null);
  const r2 = useRef<HTMLCanvasElement>(null);
  const r3 = useRef<HTMLCanvasElement>(null);
  const r4 = useRef<HTMLCanvasElement>(null);
  const r5 = useRef<HTMLCanvasElement>(null);
  const refs = [r0, r1, r2, r3, r4, r5];

  useEffect(() => {
    const builders = [buildA, buildB, buildC, buildD, buildE, buildF];
    const charts = builders.map((b, i) => b(refs[i].current as HTMLCanvasElement));
    return () => charts.forEach((c) => c.destroy());
  }, []);

  return (
    <div style={{ position: 'fixed', left: 0, top: 0, width: W, height: H, background: '#ffffff', overflow: 'hidden' }}>
      {refs.map((r, i) => (
        <canvas key={i} ref={r} width={W} height={H} style={{ position: 'absolute', left: 0, top: 0, width: W, height: H }} />
      ))}
    </div>
  );
}
